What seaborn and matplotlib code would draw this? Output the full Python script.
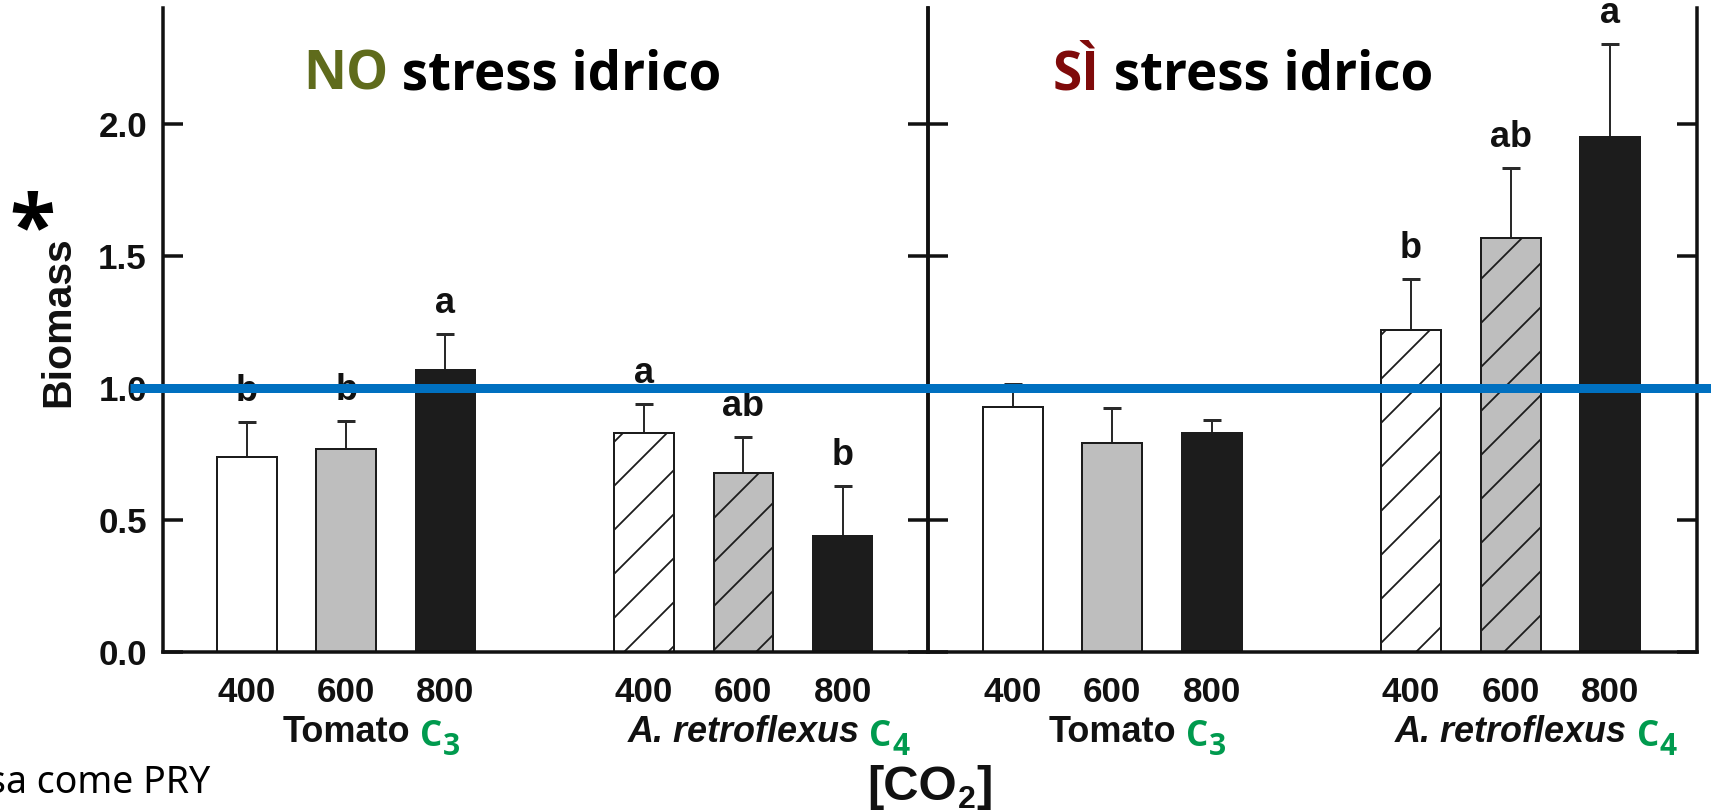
import numpy as np
import pandas as pd
import matplotlib
matplotlib.use("Agg")
import matplotlib.pyplot as plt
import seaborn as sns
from matplotlib.lines import Line2D
from matplotlib.transforms import blended_transform_factory as blend

# ---- data -------------------------------------------------------------
species = ["Tomato", "A. retroflexus"]
pathway_sub = ["3", "4"]            # C3 / C4
co2_levels = ["400", "600", "800"]

# biomass (relative, PRY) without water stress
no_stress_mean = [0.74, 0.77, 1.07, 0.83, 0.68, 0.44]
no_stress_err = [0.13, 0.105, 0.135, 0.11, 0.135, 0.19]
no_stress_sig = ["b", "b", "a", "a", "ab", "b"]

# biomass (relative, PRY) under water stress
stress_mean = [0.93, 0.79, 0.83, 1.22, 1.57, 1.95]
stress_err = [0.085, 0.135, 0.05, 0.195, 0.265, 0.355]
stress_sig = ["", "", "", "b", "ab", "a"]

y_ticks = [0.0, 0.5, 1.0, 1.5, 2.0]
reference_ratio = 1.0

# ---- style ------------------------------------------------------------
W, H, DPI = 1711, 812, 132


def px(v):
    """pixel size -> points at the output resolution"""
    return v * 72 / DPI


fills = ["#ffffff", "#bebebe", "#1c1c1c"]
hatches = ["", "/"]
EDGE = "#1c1c1c"
INK = "#111111"
GREEN = "#009a4e"
OLIVE = "#5f6b1c"
DARKRED = "#7f0a0a"
BLUE = "#0070c0"
TITLE_FONT = ["Open Sans", "DejaVu Sans"]

sns.set_style("ticks")
plt.rcParams.update({
    "font.family": ["Liberation Sans", "DejaVu Sans"],
    "font.weight": "bold",
    "hatch.linewidth": px(1.8),
    "hatch.color": EDGE,
    "axes.linewidth": px(3.5),
    "axes.edgecolor": INK,
})

fig = plt.figure(figsize=(W / DPI, H / DPI), dpi=DPI)
fig.patch.set_facecolor("white")
ax_l = fig.add_axes([163 / W, 1 - 652 / H, (928 - 163) / W, (652 - 8) / H])
ax_r = fig.add_axes([928 / W, 1 - 652 / H, (1697 - 928) / W, (652 - 8) / H])

slots = [f"{s}|{c}" for s in species for c in co2_levels]
order = slots[:3] + ["gap"] + slots[3:]
positions = [order.index(s) for s in slots]


def draw_panel(ax, means, errs, letters, xlim):
    df = pd.DataFrame({"slot": slots, "biomass": means})
    sns.barplot(data=df, x="slot", y="biomass", order=order, color="white",
                width=0.6, errorbar=None, edgecolor=EDGE, linewidth=px(2),
                saturation=1, ax=ax, zorder=2)
    for p in ax.patches:
        k = int(round(p.get_x() + p.get_width() / 2))
        p.set_facecolor(fills[k % 4])
        p.set_hatch(hatches[k // 4])
        p.set_edgecolor(EDGE)
    ax.errorbar(positions, means, yerr=[np.zeros(len(errs)), errs], fmt="none",
                ecolor="#2a2a2a", elinewidth=px(2), capsize=px(9),
                capthick=px(3), zorder=1)
    for x, m, e, lab in zip(positions, means, errs, letters):
        if lab:
            ax.annotate(lab, xy=(x, m + e), xytext=(0, px(21)),
                        textcoords="offset points", ha="center",
                        va="baseline", fontsize=px(36), fontweight="bold",
                        color=INK, annotation_clip=False)
    ax.set_ylim(0, 2.44)
    ax.set_xlim(*xlim)
    ax.set_yticks(y_ticks)
    ax.set_xticks(positions)
    ax.set_xticklabels(co2_levels * 2)
    ax.set_xlabel("")
    ax.set_ylabel("")
    ax.spines["top"].set_visible(False)
    ax.tick_params(axis="y", direction="in", left=True, right=True,
                   length=px(20), width=px(3.5), labelsize=px(35),
                   pad=px(16), colors=INK)
    ax.tick_params(axis="x", length=0, labelsize=px(35), pad=px(24),
                   colors=INK)
    ax.patch.set_alpha(0)

    # species names with photosynthetic pathway
    trans = blend(ax.transData, fig.transFigure)
    for i, name in enumerate(species):
        cx = positions[i * 3 + 1]
        t = ax.text(cx, 1 - 742 / H, name, transform=trans, ha="center",
                    va="baseline", fontsize=px(36), fontweight="bold",
                    style="italic" if i == 1 else "normal", color=INK)
        c = ax.annotate("C", xy=(1, 1 - 746 / H), xycoords=(t, fig.transFigure),
                        xytext=(px(10), 0), textcoords="offset points",
                        ha="left", va="baseline", fontsize=px(35),
                        fontweight="bold", color=GREEN, family=TITLE_FONT)
        ax.annotate(pathway_sub[i], xy=(1, 1 - 755 / H),
                    xycoords=(c, fig.transFigure), xytext=(px(1), 0),
                    textcoords="offset points", ha="left", va="baseline",
                    fontsize=px(30), fontweight="bold", color=GREEN,
                    family=TITLE_FONT)


draw_panel(ax_l, no_stress_mean, no_stress_err, no_stress_sig, (-0.845, 6.86))
draw_panel(ax_r, stress_mean, stress_err, stress_sig, (-0.85, 6.87))
ax_r.tick_params(axis="y", labelleft=False)

# reference line at ratio 1
fig.add_artist(Line2D([130 / W, 1.0], [reference_ratio, reference_ratio],
                      transform=blend(fig.transFigure, ax_l.transData),
                      color=BLUE, lw=px(9), zorder=10, solid_capstyle="butt"))

# panel titles
for x0, word, col in [(303, "NO", OLIVE), (1053, "SÌ", DARKRED)]:
    t = fig.text(x0 / W, 1 - 90 / H, word, color=col, fontsize=px(53),
                 fontweight="bold", family=TITLE_FONT, va="baseline")
    plt.annotate(" stress idrico", xy=(1, 1 - 90 / H),
                 xycoords=(t, fig.transFigure), ha="left", va="baseline",
                 fontsize=px(53), fontweight="bold", family=TITLE_FONT,
                 color="black", annotation_clip=False)

# axis labels
fig.text(58 / W, 1 - 322 / H, "Biomass", rotation=90, ha="center",
         va="center", fontsize=px(41), fontweight="bold", color=INK)
fig.text(9 / W, 1 - 254 / H, "*", fontsize=px(84), fontweight="bold",
         family=TITLE_FONT, va="baseline", ha="left", color="black")

co = fig.text(867 / W, 1 - 800 / H, "[CO", fontsize=px(49), fontweight="bold",
              va="baseline", ha="left", color=INK)
sub2 = plt.annotate("2", xy=(1, 1 - 808 / H), xycoords=(co, fig.transFigure),
                    xytext=(px(1), 0), textcoords="offset points", ha="left",
                    va="baseline", fontsize=px(32), fontweight="bold",
                    color=INK, annotation_clip=False)
plt.annotate("]", xy=(1, 1 - 800 / H), xycoords=(sub2, fig.transFigure),
             xytext=(px(1), 0), textcoords="offset points", ha="left",
             va="baseline", fontsize=px(49), fontweight="bold", color=INK,
             annotation_clip=False)

fig.text(210 / W, 1 - 793 / H, "sa come PRY", fontsize=px(37.5),
         fontweight="normal", family="Noto Sans", ha="right", va="baseline",
         color="black")

fig.savefig("out.png", dpi=DPI, facecolor="white")
